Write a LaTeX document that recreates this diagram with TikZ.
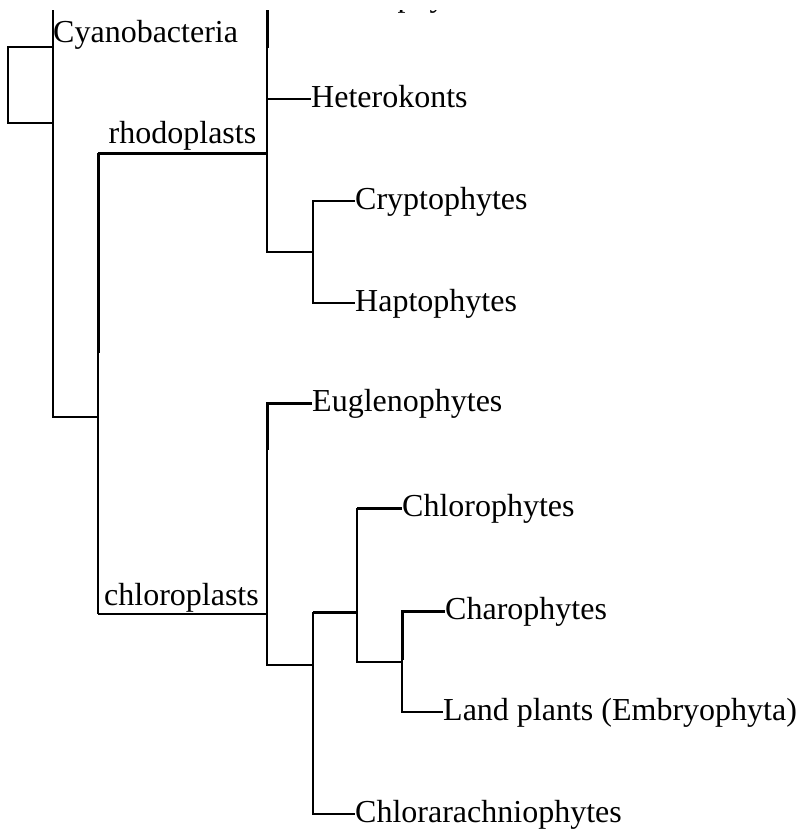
\documentclass[tikz,border=0pt]{standalone}
\usepackage{fontspec}
\setmainfont{Liberation Serif}
\begin{document}
\begin{tikzpicture}[x=1pt,y=-1pt,
  br/.style={line width=2pt,line join=miter},
  thk/.style={line width=3pt,line join=miter},
  leaf/.style={anchor=base west,inner sep=0pt,yshift=-8pt,font=\fontsize{32}{38}\selectfont},
  clade/.style={anchor=base,inner sep=0pt,font=\fontsize{32}{38}\selectfont}]
\useasboundingbox (0,0) rectangle (802,838);
\begin{scope}
\clip (0,10) rectangle (802,838);
% leaf tips
\coordinate (tRho) at (312,-2);
\coordinate (tHet) at (311,99);
\coordinate (tCry) at (355,201);
\coordinate (tHap) at (355,303);
\coordinate (tEug) at (312,403);
\coordinate (tChl) at (402,508);
\coordinate (tCha) at (445,611);
\coordinate (tLan) at (443,712);
\coordinate (tCra) at (355,814);
% leaf labels
\node[leaf] (Rho) at (tRho) {Rhodophytes};
\node[leaf] (Het) at (tHet) {Heterokonts};
\node[leaf] (Cry) at (tCry) {Cryptophytes};
\node[leaf] (Hap) at (tHap) {Haptophytes};
\node[leaf] (Eug) at (tEug) {Euglenophytes};
\node[leaf] (Chl) at (tChl) {Chlorophytes};
\node[leaf] (Cha) at (tCha) {Charophytes};
\node[leaf] (Lan) at (tLan) {Land plants (Embryophyta)};
\node[leaf] (Cra) at (tCra) {Chlorarachniophytes};
% clade labels
\node[clade] (cyano) at (53,42) [anchor=base west] {Cyanobacteria};
\node[clade] (rhodo) at (182.5,143) {rhodoplasts};
\node[clade] (chlpl) at (181.5,605) {chloroplasts};
% junction coordinates
\coordinate (a0) at (8,47);
\coordinate (a1) at (53,47);
\coordinate (a2) at (53,123);
\coordinate (cTop) at (53,0);
\coordinate (jPl) at (98,417);
\coordinate (jRh) at (98,153);
\coordinate (jRhMid) at (98,353);
\coordinate (jCh) at (98,614);
\coordinate (kRhTop) at (267,-2);
\coordinate (kRhMid) at (267,48);
\coordinate (kRh) at (267,153);
\coordinate (kRh2) at (267,252);
\coordinate (kCH) at (313,252);
\coordinate (kCh) at (267,614);
\coordinate (kEu) at (267,403);
\coordinate (kEuMid) at (267,450);
\coordinate (kLow) at (267,665);
\coordinate (mA) at (313,665);
\coordinate (mTop) at (313,612);
\coordinate (nA) at (357,612);
\coordinate (nTop) at (357,508);
\coordinate (nBot) at (357,662);
\coordinate (pTop) at (402,611);
\coordinate (pMid) at (402,660);
\coordinate (pBot) at (402,662);
% root box and stem
\draw[br] (a1) -- (a0) |- (a2);
\draw[br] (cTop) |- (jPl);
% plastid stem
\draw[thk] (jRh) -- (jRhMid);
\draw[br] (jRhMid) -- (jCh);
% rhodoplasts
\draw[thk] (jRh) -- (kRh);
\draw[br] (kRhTop) -- (tRho);
\draw[thk] (kRhTop) -- (kRhMid);
\draw[br] (kRhMid) -- (kRh2) -- (kCH);
\draw[br] (kRh |- tHet) -- (tHet);
\draw[br] (tCry) -| (kCH) |- (tHap);
% chloroplasts
\draw[br] (jCh) -- (kCh);
\draw[thk] (tEug) -- (kEu) -- (kEuMid);
\draw[br] (kEuMid) -- (kLow) -- (mA);
\draw[br] (mTop) -- (mA) |- (tCra);
\draw[thk] (mTop) -- (nA);
\draw[thk] (tChl) -- (nTop);
\draw[br] (nTop) -- (nBot) -- (pBot);
\draw[thk] (tCha) -- (pTop) -- (pMid);
\draw[br] (pMid) |- (tLan);
\end{scope}
\end{tikzpicture}
\end{document}
